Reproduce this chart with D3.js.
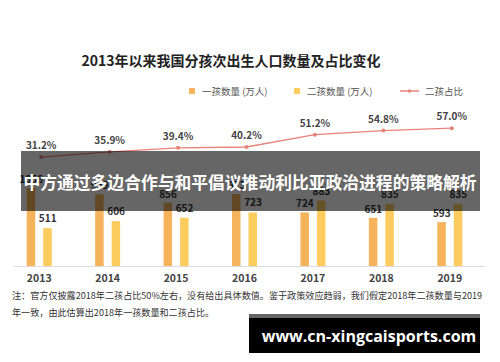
<!DOCTYPE html>
<html>
<head>
<meta charset="utf-8">
<script src="https://cdn.jsdelivr.net/npm/d3@7"></script>
<style>
  body { margin: 0; background: #fff; }
  svg { display: block; font-family: "Noto Sans CJK SC", "Noto Sans", sans-serif; }
</style>
</head>
<body>
<script>
// data
const years = ['2013', '2014', '2015', '2016', '2017', '2018', '2019']
const firstChild = [1056, 969, 856, 973, 724, 651, 593]
const secondChild = [511, 606, 652, 723, 883, 835, 835]
const secondShare = [31.2, 35.9, 39.4, 40.2, 51.2, 54.8, 57.0]

const w = 500, h = 362

const svg = d3.select('body')
  .append('svg')
  .attr('width', w)
  .attr('height', h)

// scales
const x = d3.scaleBand().domain(years).range([5, 484])
const y = d3.scaleLinear().domain([0, 2000]).range([266, 118])
const yPct = d3.scaleLinear().domain([0, 100]).range([192, 80])
const cx = d => x(d) + x.bandwidth() / 2

// title
svg.append('text')
  .attr('x', 231).attr('y', 66)
  .attr('text-anchor', 'middle')
  .attr('font-size', 14).attr('font-weight', 'bold')
  .attr('fill', '#222')
  .text('2013年以来我国分孩次出生人口数量及占比变化')

// legend
const lg = svg.append('g').attr('font-size', 9.5).attr('fill', '#555')
lg.append('rect').attr('x', 189).attr('y', 88).attr('width', 6).attr('height', 6).attr('fill', '#f5b45c')
lg.append('text').attr('x', 202).attr('y', 94.5).text('一孩数量 (万人)')
lg.append('rect').attr('x', 294).attr('y', 88).attr('width', 6).attr('height', 6).attr('fill', '#fdcc5e')
lg.append('text').attr('x', 307).attr('y', 94.5).text('二孩数量 (万人)')
lg.append('line').attr('x1', 400).attr('x2', 419).attr('y1', 91).attr('y2', 91)
  .attr('stroke', '#e8837a').attr('stroke-width', 1.5)
lg.append('circle').attr('cx', 409.5).attr('cy', 91).attr('r', 1.8).attr('fill', '#e8837a')
lg.append('text').attr('x', 425).attr('y', 94.5).text('二孩占比')

// axis line
svg.append('line')
  .attr('x1', 14).attr('x2', 485).attr('y1', 266.5).attr('y2', 266.5)
  .attr('stroke', '#dcdcdc').attr('stroke-width', 1)

// year labels
svg.append('g')
  .selectAll('text')
  .data(years)
  .enter()
  .append('text')
  .attr('x', d => cx(d))
  .attr('y', 282)
  .attr('text-anchor', 'middle')
  .attr('font-size', 10.5).attr('font-weight', 'bold')
  .attr('fill', '#444')
  .text(d => d)

// bars
const bw = 8.5
svg.append('g')
  .selectAll('rect')
  .data(years)
  .enter()
  .append('rect')
  .attr('x', d => cx(d) - 12.5)
  .attr('y', (d, i) => y(firstChild[i]))
  .attr('width', bw)
  .attr('height', (d, i) => y(0) - y(firstChild[i]))
  .attr('fill', '#f5b45c')

svg.append('g')
  .selectAll('rect')
  .data(years)
  .enter()
  .append('rect')
  .attr('x', d => cx(d) + 4)
  .attr('y', (d, i) => y(secondChild[i]))
  .attr('width', bw)
  .attr('height', (d, i) => y(0) - y(secondChild[i]))
  .attr('fill', '#fdcc5e')

// bar value labels
const vl = svg.append('g').attr('font-size', 10).attr('font-weight', 'bold').attr('fill', '#333').attr('text-anchor', 'middle')
vl.selectAll('.v1')
  .data(years)
  .enter()
  .append('text')
  .attr('x', d => cx(d) - 8)
  .attr('y', (d, i) => y(firstChild[i]) - 5)
  .text((d, i) => firstChild[i])
vl.selectAll('.v2')
  .data(years)
  .enter()
  .append('text')
  .attr('x', d => cx(d) + 8.5)
  .attr('y', (d, i) => y(secondChild[i]) - 6)
  .text((d, i) => secondChild[i])

// share line
const line = d3.line()
  .x((d, i) => cx(years[i]) + 2)
  .y(d => yPct(d))
svg.append('path')
  .datum(secondShare)
  .attr('d', line)
  .attr('fill', 'none')
  .attr('stroke', '#e8837a')
  .attr('stroke-width', 1.3)
svg.append('g')
  .selectAll('circle')
  .data(secondShare)
  .enter()
  .append('circle')
  .attr('cx', (d, i) => cx(years[i]) + 2)
  .attr('cy', d => yPct(d))
  .attr('r', 2)
  .attr('fill', '#e8837a')
svg.append('g')
  .selectAll('text')
  .data(secondShare)
  .enter()
  .append('text')
  .attr('x', (d, i) => cx(years[i]) + 2)
  .attr('y', d => yPct(d) - 8)
  .attr('text-anchor', 'middle')
  .attr('font-size', 10).attr('font-weight', 'bold')
  .attr('fill', '#444')
  .text(d => d.toFixed(1) + '%')

// note
const note = svg.append('g').attr('font-size', 9.1).attr('fill', '#333')
note.append('text').attr('x', 12).attr('y', 299)
  .text('注：官方仅披露2018年二孩占比50%左右，没有给出具体数值。鉴于政策效应趋弱，我们假定2018年二孩数量与2019')
note.append('text').attr('x', 12).attr('y', 316)
  .text('年一致，由此估算出2018年一孩数量和二孩占比。')

// banner overlay
svg.append('rect')
  .attr('x', 21).attr('y', 151).attr('width', 459).attr('height', 60)
  .attr('fill', 'rgba(0,0,0,0.6)')
svg.append('text')
  .attr('x', 250).attr('y', 189)
  .attr('text-anchor', 'middle')
  .attr('font-size', 16.8).attr('font-weight', 'bold')
  .attr('fill', '#fff')
  .text('中方通过多边合作与和平倡议推动利比亚政治进程的策略解析')

// watermark
svg.append('rect').attr('x', 249).attr('y', 314).attr('width', 231).attr('height', 4).attr('fill', '#666')
svg.append('rect').attr('x', 249).attr('y', 318).attr('width', 231).attr('height', 35).attr('fill', '#000')
svg.append('text')
  .attr('x', 369).attr('y', 342)
  .attr('text-anchor', 'middle')
  .attr('font-size', 16).attr('font-weight', 'bold')
  .attr('font-family', '"Open Sans", "DejaVu Sans", sans-serif')
  .attr('fill', '#fff')
  .text('www.cn-xingcaisports.com')
</script>
</body>
</html>
